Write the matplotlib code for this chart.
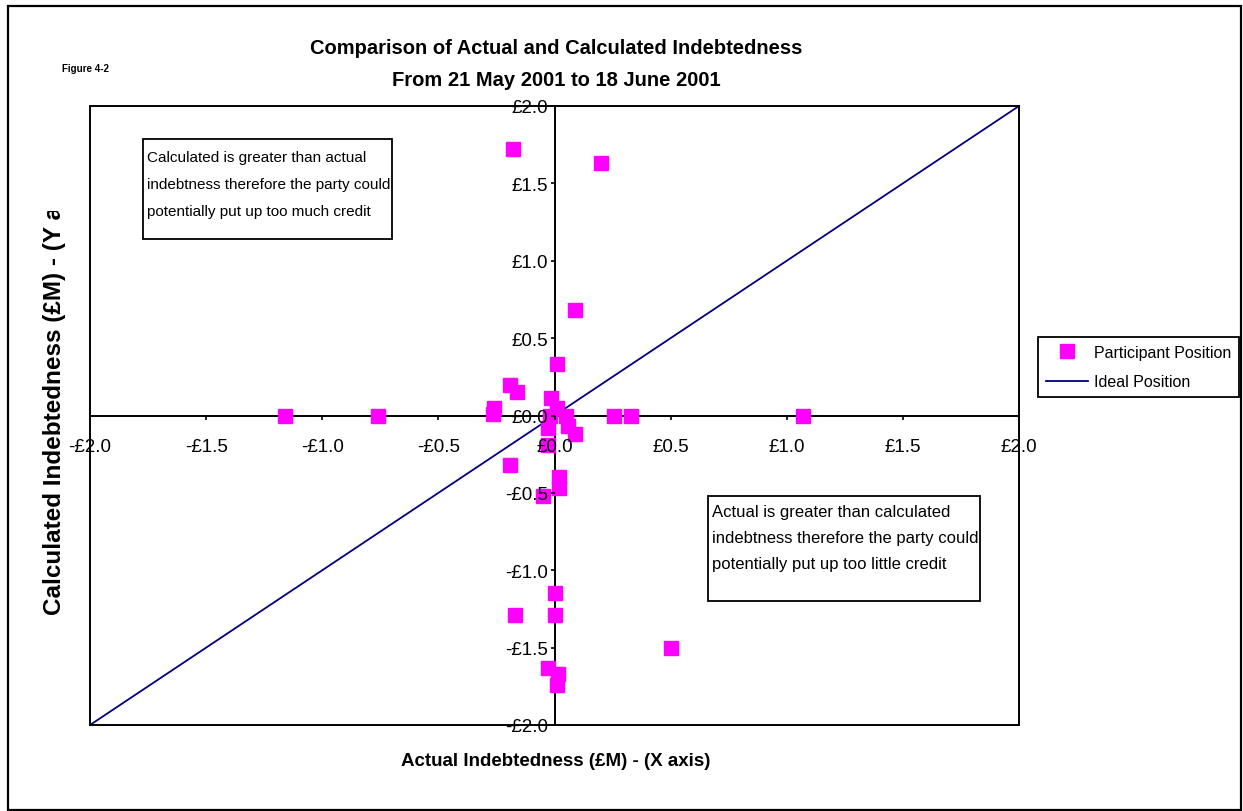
import matplotlib
matplotlib.use("Agg")
import matplotlib.pyplot as plt
from matplotlib.patches import Rectangle
from matplotlib.ticker import FuncFormatter, MultipleLocator
from matplotlib.transforms import Bbox

# Data (£M)
actual = [-1.16, -0.76, -0.26, -0.265, -0.19, -0.16, 0.01, -0.015, 0.01, -0.02,
          0.05, -0.03, 0.06, 0.09, 0.255, 0.33, 1.07, 0.20, -0.18, 0.09,
          -0.19, 0.02, 0.02, -0.05, -0.03, -0.17, 0.50, 0.0, 0.0, -0.03,
          0.015, 0.01]
calculated = [0.0, 0.0, 0.05, 0.01, 0.20, 0.15, 0.33, 0.11, 0.05, 0.0,
              0.0, -0.08, -0.07, -0.12, 0.0, 0.0, 0.0, 1.63, 1.72, 0.68,
              -0.32, -0.40, -0.47, -0.52, -0.19, -1.29, -1.50, -1.15, -1.29, -1.63,
              -1.67, -1.74]
ideal_x = [-2.0, 2.0]
ideal_y = [-2.0, 2.0]

title_lines = ["Comparison of Actual and Calculated Indebtedness",
               "From 21 May 2001 to 18 June 2001"]
note_upper = ["Calculated is greater than actual",
              "indebtness therefore the party could",
              "potentially put up too much credit"]
note_lower = ["Actual is greater than calculated",
              "indebtness therefore the party could",
              "potentially put up too little credit"]

W, H = 1243, 812
plt.rcParams["font.family"] = ["Liberation Sans", "DejaVu Sans"]


def fx(px):
    return px / W


def fy(py):
    return 1 - py / H


fig = plt.figure(figsize=(W / 100, H / 100), dpi=100)
ax = fig.add_axes([fx(90), fy(726), (1019 - 90) / W, (726 - 107) / H])

ax.plot(ideal_x, ideal_y, color="#000080", lw=1.3, zorder=2, clip_on=False,
        label="Ideal Position")
ax.plot(actual, calculated, ls="none", marker="s", ms=10, color="#FF00FF",
        mec="#FF00FF", zorder=3, label="Participant Position")

ax.set_xlim(-2, 2)
ax.set_ylim(-2, 2)
ax.xaxis.set_major_locator(MultipleLocator(0.5))
ax.yaxis.set_major_locator(MultipleLocator(0.5))
fmt = FuncFormatter(lambda v, p: ("-" if v < -1e-9 else "") + "£%.1f" % abs(v))
ax.xaxis.set_major_formatter(fmt)
ax.yaxis.set_major_formatter(fmt)

for s in ["top", "right"]:
    ax.spines[s].set_visible(False)
ax.spines["left"].set_position("zero")
ax.spines["bottom"].set_position("zero")
for s in ["left", "bottom"]:
    ax.spines[s].set_linewidth(1.4)
ax.tick_params(axis="both", direction="out", length=3, width=1.2, labelsize=13.5)
ax.tick_params(axis="x", pad=13)
ax.tick_params(axis="y", pad=1.5)
ax.xaxis.set_zorder(4)
ax.yaxis.set_zorder(4)

# plot area frame
ax.add_patch(Rectangle((0, 0), 1, 1, transform=ax.transAxes, fill=False,
                       ec="black", lw=1.4, clip_on=False, zorder=2.5))

# outer chart border
fig.add_artist(Rectangle((fx(8), fy(811)), (1241 - 8) / W, (811 - 7) / H,
                         transform=fig.transFigure, fill=False, ec="black", lw=1.6))

# titles
for i, line in enumerate(title_lines):
    fig.text(fx(556), fy(48 + 32 * i), line, ha="center", va="center",
             fontsize=14.5, fontweight="bold")
fig.text(fx(62), fy(69), "Figure 4-2", ha="left", va="center", fontsize=7,
         fontweight="bold")
fig.text(fx(556), fy(762), "Actual Indebtedness (£M) - (X axis)", ha="center",
         va="center", fontsize=13.5, fontweight="bold")
ylab = fig.text(fx(55), fy(615), "Calculated Indebtedness (£M) - (Y axis)",
                ha="left", va="center", rotation=90, rotation_mode="anchor",
                fontsize=17.5, fontweight="bold")
ylab.set_clip_box(Bbox.from_extents(0, 0, W, H - 212))
ylab.set_clip_on(True)

# annotation boxes
fig.add_artist(Rectangle((fx(143), fy(240)), (392 - 143) / W, (240 - 140) / H,
                         transform=fig.transFigure, fill=False, ec="black", lw=1.3))
for i, line in enumerate(note_upper):
    fig.text(fx(147), fy(158 + 27 * i), line, ha="left", va="center", fontsize=11)
fig.add_artist(Rectangle((fx(708), fy(602)), (980 - 708) / W, (602 - 497) / H,
                         transform=fig.transFigure, fill=False, ec="black", lw=1.3))
for i, line in enumerate(note_lower):
    fig.text(fx(712), fy(513 + 26 * i), line, ha="left", va="center", fontsize=12)

# legend
handles, labels = ax.get_legend_handles_labels()
leg = fig.legend(handles[::-1], labels[::-1], loc="upper left",
                 bbox_to_anchor=(fx(1038), fy(338)), bbox_transform=fig.transFigure,
                 borderaxespad=0, fancybox=False, edgecolor="black", framealpha=1,
                 prop={"size": 11.5}, handlelength=2.6, handletextpad=0.4,
                 borderpad=0.5, labelspacing=0.9)
leg.get_frame().set_linewidth(1.3)

fig.savefig("out.png", dpi=100)
